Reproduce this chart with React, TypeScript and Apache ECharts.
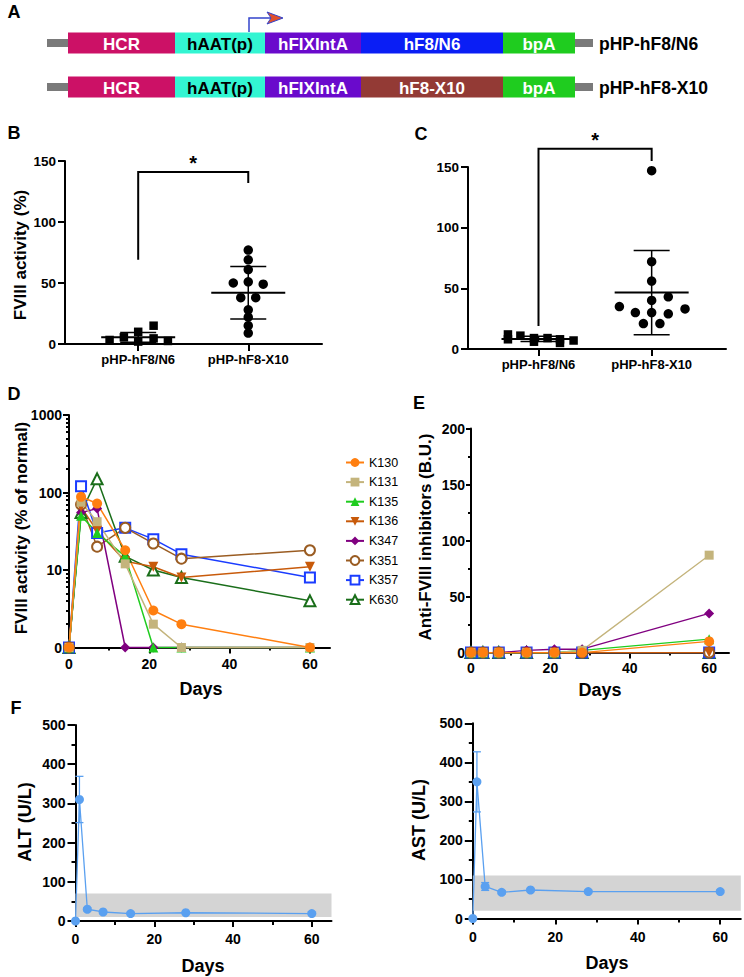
import React, { useEffect, useRef } from "react";
import * as echarts from "echarts";

const FONT = "'Liberation Sans', Arial, Helvetica, sans-serif";

/* ---------------- Panel A : constructs ---------------- */
const constructNames = ["pHP-hF8/N6", "pHP-hF8-X10"];
const cassetteParts = ["HCR", "hAAT(p)", "hFIXIntA"];
const insertNames = ["hF8/N6", "hF8-X10"];
const polyAName = "bpA";

/* ---------------- Panels B & C ---------------- */
const groupNames = ["pHP-hF8/N6", "pHP-hF8-X10"];
const activityTicks = [0, 50, 100, 150];

const bN6Offsets = [-0.26, -0.13, 0, 0, 0.14, 0.14, 0.27];
const bN6Values = [3.3, 5.5, 10, 2, 15, 4.6, 2.5];
const bX10Offsets = [0, 0, 0, -0.136, 0, 0.136, -0.068, 0.068, 0, 0, 0, 0];
const bX10Values = [77, 69, 61, 50, 51, 49, 38, 38, 28, 22, 15, 9];
const bMeans = [5.5, 42];
const bSDs = [4, 21.5];
const bBracket = [141, 69, 132];

const cN6Offsets = [-0.27, -0.27, -0.16, -0.04, -0.04, 0.08, 0.19, 0.19, 0.31];
const cN6Values = [12, 8, 11, 9, 6, 9, 8, 5, 7];
const cX10Offsets = [0, 0, 0, 0.147, 0, -0.285, 0.295, -0.144, 0, 0.147, -0.073, 0.073];
const cX10Values = [147, 72, 56, 43, 40, 35, 33, 30, 30, 29, 21, 21];
const cMeans = [8.3, 46.5];
const cSDs = [2.2, 34.7];
const cBracket = [165, 19, 155];

/* ---------------- Panels D & E ---------------- */
const mouseIds = ["K130", "K131", "K135", "K136", "K347", "K351", "K357", "K630"];
const studyDays = [0, 3, 7, 14, 21, 28, 60];

const fviiiK130 = [0, 88, 72, 18, 3, 2, 0];
const fviiiK131 = [0, 75, 42, 12, 2, 0, 0];
const fviiiK135 = [0, 50, 30, 15, 0, 0, 0];
const fviiiK136 = [0, 65, 32, 13, 11, 8, 11];
const fviiiK347 = [0, 55, 62, 0, 0, 0, 0];
const fviiiK351 = [0, 70, 20, 35, 22, 14, 18];
const fviiiK357 = [0, 120, 30, 35, 25, 16, 8];
const fviiiK630 = [0, 55, 150, 15, 10, 8, 4];

const inhibK130 = [0, 0, 0, 0, 0, 0, 10];
const inhibK131 = [0, 0, 0, 0, 0, 2, 87];
const inhibK135 = [0, 0, 0, 0, 0, 2, 12];
const inhibK136 = [0, 0, 0, 0, 0, 0, 0];
const inhibK347 = [0, 0, 0, 2, 3, 3, 35];
const inhibK351 = [0, 0, 0, 0, 0, 0, 0];
const inhibK357 = [0, 0, 0, 0, 0, 0, 0];
const inhibK630 = [0, 0, 0, 0, 0, 0, 0];

const logMajor = [1, 10, 100, 1000];
const logMinor = [2, 3, 4, 5, 6, 7, 8, 9, 20, 30, 40, 50, 60, 70, 80, 90, 200, 300, 400, 500, 600, 700, 800, 900];
const dayMajor = [0, 20, 40, 60];
const dayMinor = [10, 30, 50];
const inhibMajor = [0, 50, 100, 150, 200];
const inhibMinor = [25, 75, 125, 175];

/* ---------------- Panel F ---------------- */
const enzymeDays = [0, 1, 3, 7, 14, 28, 60];
const altMean = [0, 310, 30, 23, 19, 21, 19];
const altSD = [0, 59, 4, 3, 2, 2, 2];
const altNormalRange = [10, 70];
const astMean = [0, 350, 82, 67, 73, 69, 69];
const astSD = [0, 77, 10, 4, 4, 3, 3];
const astNormalRange = [20, 110];
const enzymeMajor = [0, 100, 200, 300, 400, 500];
const enzymeMinor = [50, 150, 250, 350, 450];

/* ---------------- styles ---------------- */
const mouseColors = ["#ff7f10", "#c4b47c", "#1fcc1f", "#c85a0a", "#800080", "#9a5c22", "#1a3cff", "#1a6e1a"];
const mouseSymbols = ["circle", "rect", "triangle", "triangle", "diamond", "emptyCircle", "emptyRect", "emptyTriangle"];
const mouseRotate = [0, 0, 0, 180, 0, 0, 0, 0];
const mouseSizes = [10, 9, 10, 10, 10, 10, 10, 11];
const ENZ_BLUE = "#5aa0f0";

type AxisCfg = {
  type?: "value" | "log";
  min: number;
  max: number;
  major: number[];
  minor?: number[];
  fontSize: number;
  margin: number;
  tickLen: number;
  minorLen?: number;
  formatter?: (v: number) => string;
};

function makeAxes(dim: "x" | "y", gridIndex: number, c: AxisCfg): any[] {
  const position = dim === "x" ? "bottom" : "left";
  const base: any = {
    type: c.type ?? "value",
    gridIndex,
    min: c.min,
    max: c.max,
    position,
    splitLine: { show: false },
    silent: true,
  };
  if (c.type === "log") base.logBase = 10;
  const label: any = {
    show: true,
    customValues: c.major,
    margin: c.margin,
    fontSize: c.fontSize,
    fontWeight: "bold",
    fontFamily: FONT,
    color: "#000",
  };
  if (c.formatter) label.formatter = c.formatter;
  const out: any[] = [
    {
      ...base,
      axisLine: { show: true, onZero: false, lineStyle: { color: "#000", width: 2 } },
      axisTick: { show: true, customValues: c.major, length: c.tickLen, lineStyle: { color: "#000", width: 2 } },
      axisLabel: label,
    },
  ];
  if (c.minor) {
    out.push({
      ...base,
      axisLine: { show: false, onZero: false },
      axisTick: { show: true, customValues: c.minor, length: c.minorLen ?? 3, lineStyle: { color: "#000", width: 2 } },
      axisLabel: { show: false },
    });
  }
  return out;
}

function txt(text: string, x: number, y: number, size: number, opts: any = {}) {
  const align = opts.align ?? "center";
  return {
    type: "text",
    x,
    y,
    rotation: opts.rotation ?? 0,
    z: 100,
    silent: true,
    style: {
      text,
      fontSize: size,
      fontWeight: opts.weight ?? "bold",
      fontFamily: FONT,
      fill: opts.color ?? "#000",
      align,
      textAlign: align,
      verticalAlign: "middle",
      textVerticalAlign: "middle",
    },
  };
}

function buildOption() {
  const grid: any[] = [];
  const xAxis: any[] = [];
  const yAxis: any[] = [];
  const series: any[] = [];

  const addGrid = (left: number, top: number, width: number, height: number) => {
    grid.push({ left, top, width, height, containLabel: false, outerBoundsMode: "none" });
    return grid.length - 1;
  };
  const addX = (g: number, c: AxisCfg) => {
    const i = xAxis.length;
    xAxis.push(...makeAxes("x", g, c));
    return i;
  };
  const addY = (g: number, c: AxisCfg) => {
    const i = yAxis.length;
    yAxis.push(...makeAxes("y", g, c));
    return i;
  };

  const groupFmt = (v: number) => groupNames[Math.round(v) - 1] ?? "";

  /* ---- B ---- */
  const gB = addGrid(65, 161, 257, 183);
  const xB = addX(gB, { min: 0.335, max: 2.67, major: [1, 2], fontSize: 13, margin: 9, tickLen: 7, formatter: groupFmt });
  const yB = addY(gB, { min: 0, max: 150, major: activityTicks, fontSize: 13.5, margin: 9, tickLen: 7 });

  /* ---- C ---- */
  const gC = addGrid(468, 167, 258, 182);
  const xC = addX(gC, { min: 0.377, max: 2.657, major: [1, 2], fontSize: 13, margin: 9, tickLen: 7, formatter: groupFmt });
  const yC = addY(gC, { min: 0, max: 150, major: activityTicks, fontSize: 13.5, margin: 9, tickLen: 7 });

  /* ---- D ---- */
  const gD = addGrid(69, 415, 261, 232.5);
  const xD = addX(gD, { min: 0, max: 65, major: dayMajor, minor: dayMinor, fontSize: 14, margin: 9, tickLen: 6, minorLen: 3 });
  const yD = addY(gD, {
    type: "log",
    min: 1,
    max: 1000,
    major: logMajor,
    minor: logMinor,
    fontSize: 14,
    margin: 7,
    tickLen: 6,
    minorLen: 3,
    formatter: (v: number) => (Math.abs(v - 1) < 1e-6 ? "0" : String(Math.round(v))),
  });

  /* ---- E ---- */
  const gE = addGrid(471, 428.6, 258, 224);
  const xE = addX(gE, { min: 0, max: 65, major: dayMajor, minor: dayMinor, fontSize: 14, margin: 8, tickLen: 6, minorLen: 3 });
  const yE = addY(gE, { min: 0, max: 200, major: inhibMajor, minor: inhibMinor, fontSize: 14, margin: 6, tickLen: 5, minorLen: 3 });

  /* ---- F left / right ---- */
  const gF1 = addGrid(75.5, 725, 256, 196);
  const xF1 = addX(gF1, { min: 0, max: 65, major: dayMajor, minor: dayMinor, fontSize: 14, margin: 11, tickLen: 6, minorLen: 4 });
  const yF1 = addY(gF1, { min: 0, max: 500, major: enzymeMajor, minor: enzymeMinor, fontSize: 14, margin: 10, tickLen: 8, minorLen: 4 });
  const gF2 = addGrid(472.8, 723.3, 268, 195.2);
  const xF2 = addX(gF2, { min: 0, max: 65, major: dayMajor, minor: dayMinor, fontSize: 14, margin: 11, tickLen: 6, minorLen: 4 });
  const yF2 = addY(gF2, { min: 0, max: 500, major: enzymeMajor, minor: enzymeMinor, fontSize: 14, margin: 10, tickLen: 8, minorLen: 4 });

  /* ---- custom renderers ---- */
  const statsRender = (_p: any, api: any) => {
    const x = api.value(0);
    const m = api.value(1);
    const sd = api.value(2);
    const c = api.coord([x, m]);
    const t = api.coord([x, m + sd]);
    const b = api.coord([x, Math.max(m - sd, 0)]);
    const thin = { stroke: "#000", lineWidth: 1.5 };
    return {
      type: "group",
      children: [
        { type: "line", shape: { x1: c[0] - 37, y1: c[1], x2: c[0] + 37, y2: c[1] }, style: { stroke: "#000", lineWidth: 2 } },
        { type: "line", shape: { x1: c[0], y1: t[1], x2: c[0], y2: b[1] }, style: thin },
        { type: "line", shape: { x1: c[0] - 18, y1: t[1], x2: c[0] + 18, y2: t[1] }, style: thin },
        { type: "line", shape: { x1: c[0] - 18, y1: b[1], x2: c[0] + 18, y2: b[1] }, style: thin },
      ],
    };
  };
  const bracketRender = (_p: any, api: any) => {
    const top = api.value(2);
    const pL = api.coord([api.value(0), api.value(3)]);
    const pR = api.coord([api.value(1), api.value(4)]);
    const tL = api.coord([api.value(0), top]);
    const tR = api.coord([api.value(1), top]);
    return {
      type: "group",
      children: [
        { type: "polyline", shape: { points: [pL, tL, tR, pR] }, style: { stroke: "#000", lineWidth: 2, fill: "none" } },
        {
          type: "text",
          x: (tL[0] + tR[0]) / 2,
          y: tL[1] - 9,
          style: { text: "*", fontSize: 20, fontWeight: "bold", fontFamily: FONT, fill: "#000", align: "center", verticalAlign: "middle" },
        },
      ],
    };
  };
  const errRender = (_p: any, api: any) => {
    const x = api.value(0);
    const m = api.value(1);
    const sd = api.value(2);
    const t = api.coord([x, m + sd]);
    const b = api.coord([x, Math.max(m - sd, 0)]);
    const st = { stroke: ENZ_BLUE, lineWidth: 1.3 };
    return {
      type: "group",
      children: [
        { type: "line", shape: { x1: t[0], y1: t[1], x2: b[0], y2: b[1] }, style: st },
        { type: "line", shape: { x1: t[0] - 4, y1: t[1], x2: t[0] + 4, y2: t[1] }, style: st },
        { type: "line", shape: { x1: b[0] - 4, y1: b[1], x2: b[0] + 4, y2: b[1] }, style: st },
      ],
    };
  };

  /* ---- B & C series ---- */
  const dotPanel = (
    xi: number,
    yi: number,
    n6Off: number[],
    n6Val: number[],
    x10Off: number[],
    x10Val: number[],
    means: number[],
    sds: number[],
    bracket: number[]
  ) => {
    series.push({
      type: "scatter",
      xAxisIndex: xi,
      yAxisIndex: yi,
      symbol: "rect",
      symbolSize: 8.5,
      itemStyle: { color: "#000", opacity: 1 },
      data: n6Val.map((v, i) => [1 + n6Off[i], v]),
      silent: true,
    });
    series.push({
      type: "scatter",
      xAxisIndex: xi,
      yAxisIndex: yi,
      symbol: "circle",
      symbolSize: 9.5,
      itemStyle: { color: "#000", opacity: 1 },
      data: x10Val.map((v, i) => [2 + x10Off[i], v]),
      silent: true,
    });
    series.push({
      type: "custom",
      xAxisIndex: xi,
      yAxisIndex: yi,
      renderItem: statsRender,
      data: means.map((m, i) => [i + 1, m, sds[i]]),
      clip: false,
      silent: true,
      z: 3,
    });
    series.push({
      type: "custom",
      xAxisIndex: xi,
      yAxisIndex: yi,
      renderItem: bracketRender,
      data: [[1, 2, bracket[0], bracket[1], bracket[2]]],
      clip: false,
      silent: true,
    });
  };
  dotPanel(xB, yB, bN6Offsets, bN6Values, bX10Offsets, bX10Values, bMeans, bSDs, bBracket);
  dotPanel(xC, yC, cN6Offsets, cN6Values, cX10Offsets, cX10Values, cMeans, cSDs, cBracket);

  /* ---- D & E series (drawn in reverse so K130 is on top) ---- */
  const fviii = [fviiiK130, fviiiK131, fviiiK135, fviiiK136, fviiiK347, fviiiK351, fviiiK357, fviiiK630];
  const inhib = [inhibK130, inhibK131, inhibK135, inhibK136, inhibK347, inhibK351, inhibK357, inhibK630];
  const mouseSeries = (i: number, xi: number, yi: number, data: any[], lw: number) => ({
    type: "line",
    name: mouseIds[i],
    xAxisIndex: xi,
    yAxisIndex: yi,
    data,
    symbol: mouseSymbols[i],
    symbolSize: mouseSizes[i],
    symbolRotate: mouseRotate[i],
    showSymbol: true,
    lineStyle: { color: mouseColors[i], width: lw },
    itemStyle: { color: mouseColors[i], borderColor: mouseColors[i], borderWidth: mouseSymbols[i].startsWith("empty") ? 1.6 : 0, opacity: 1 },
    emphasis: { disabled: true },
    silent: true,
    clip: false,
  });
  for (let i = mouseIds.length - 1; i >= 0; i--) {
    // GraphPad plots 0 on the floor (1) of the log axis
    series.push(mouseSeries(i, xD, yD, studyDays.map((d, j) => [d, fviii[i][j] === 0 ? 1 : fviii[i][j]]), 1.5));
  }
  for (let i = mouseIds.length - 1; i >= 0; i--) {
    series.push(mouseSeries(i, xE, yE, studyDays.map((d, j) => [d, inhib[i][j]]), 1.3));
  }

  /* ---- F series ---- */
  const enzymePanel = (xi: number, yi: number, mean: number[], sd: number[], range: number[]) => {
    series.push({
      type: "line",
      xAxisIndex: xi,
      yAxisIndex: yi,
      data: enzymeDays.map((d, i) => [d, mean[i]]),
      symbol: "circle",
      symbolSize: 9,
      lineStyle: { color: ENZ_BLUE, width: 1.3 },
      itemStyle: { color: ENZ_BLUE, opacity: 1 },
      silent: true,
      clip: false,
      z: 3,
      markArea: {
        silent: true,
        itemStyle: { color: "#d4d4d4" },
        data: [[{ yAxis: range[0] }, { yAxis: range[1] }]],
      },
    });
    series.push({
      type: "custom",
      xAxisIndex: xi,
      yAxisIndex: yi,
      renderItem: errRender,
      data: enzymeDays.map((d, i) => [d, mean[i], sd[i]]).filter((r) => r[2] > 0),
      clip: false,
      silent: true,
      z: 2,
    });
  };
  enzymePanel(xF1, yF1, altMean, altSD, altNormalRange);
  enzymePanel(xF2, yF2, astMean, astSD, astNormalRange);

  /* ---- graphic: panel A, letters, axis titles ---- */
  const g: any[] = [];
  const rowY = [43, 87];
  const segX = [68, 175, 265, 361, 503, 575];
  const segFill = ["#cc1166", "#33f5d2", "#6a0acc", "", "#1fcc1f"];
  const insertFill = ["#0a1ef5", "#933a35"];
  const segText = ["#fff", "#000", "#fff", "#fff", "#fff"];
  rowY.forEach((cy, r) => {
    g.push({ type: "rect", shape: { x: 47, y: cy - 4, width: 21, height: 8 }, style: { fill: "#7a7a7a" }, silent: true });
    g.push({ type: "rect", shape: { x: 575, y: cy - 4, width: 18, height: 8 }, style: { fill: "#7a7a7a" }, silent: true });
    const labels = [...cassetteParts, insertNames[r], polyAName];
    labels.forEach((lab, i) => {
      const x0 = segX[i];
      const x1 = segX[i + 1];
      g.push({
        type: "rect",
        shape: { x: x0, y: cy - 10.5, width: x1 - x0, height: 21 },
        style: { fill: i === 3 ? insertFill[r] : segFill[i] },
        silent: true,
      });
      g.push(txt(lab, (x0 + x1) / 2, cy + 1, 17, { color: segText[i] }));
    });
    g.push(txt(constructNames[r], 599, cy + 1, 17.5, { align: "left" }));
  });
  // promoter arrow
  g.push({ type: "polyline", shape: { points: [[249, 32], [249, 18], [272, 18]] }, style: { stroke: "#3344cc", lineWidth: 1.5, fill: "none" }, silent: true });
  g.push({ type: "polygon", shape: { points: [[267, 12], [283, 18], [267, 24], [271, 18]] }, style: { fill: "#e0502c", stroke: "#3344cc", lineWidth: 1 }, silent: true });

  // panel letters
  g.push(txt("A", 14, 12, 18));
  g.push(txt("B", 14, 133, 18));
  g.push(txt("C", 421, 134, 18));
  g.push(txt("D", 14, 394, 18));
  g.push(txt("E", 419, 403, 18));
  g.push(txt("F", 16, 708, 18));

  // axis titles
  g.push(txt("FVIII activity (%)", 20, 255, 17, { rotation: Math.PI / 2 }));
  g.push(txt("FVIII activity (% of normal)", 21, 528, 17, { rotation: Math.PI / 2 }));
  g.push(txt("Anti-FVIII inhibitors (B.U.)", 425, 537, 17, { rotation: Math.PI / 2 }));
  g.push(txt("ALT (U/L)", 25, 822, 18, { rotation: Math.PI / 2 }));
  g.push(txt("AST (U/L)", 419, 820, 18, { rotation: Math.PI / 2 }));
  g.push(txt("Days", 201, 689, 18));
  g.push(txt("Days", 600, 690, 18));
  g.push(txt("Days", 203, 966, 18));
  g.push(txt("Days", 607, 963, 18));

  return {
    animation: false,
    backgroundColor: "#fff",
    textStyle: { fontFamily: FONT },
    grid,
    xAxis,
    yAxis,
    series,
    legend: {
      data: mouseIds,
      orient: "vertical",
      left: 340,
      top: 451,
      itemWidth: 18,
      itemHeight: 11,
      itemGap: 6.6,
      selectedMode: false,
      textStyle: { fontSize: 12.5, fontFamily: FONT, color: "#000" },
    },
    graphic: { elements: g },
  };
}

export default function App() {
  const ref = useRef<HTMLDivElement>(null);
  useEffect(() => {
    if (!ref.current) return;
    const chart = echarts.init(ref.current, null, { renderer: "svg" });
    chart.setOption(buildOption() as any);
    return () => chart.dispose();
  }, []);
  return (
    <div
      ref={ref}
      style={{ position: "absolute", left: 0, top: 0, width: 744, height: 977, background: "#fff" }}
    />
  );
}
